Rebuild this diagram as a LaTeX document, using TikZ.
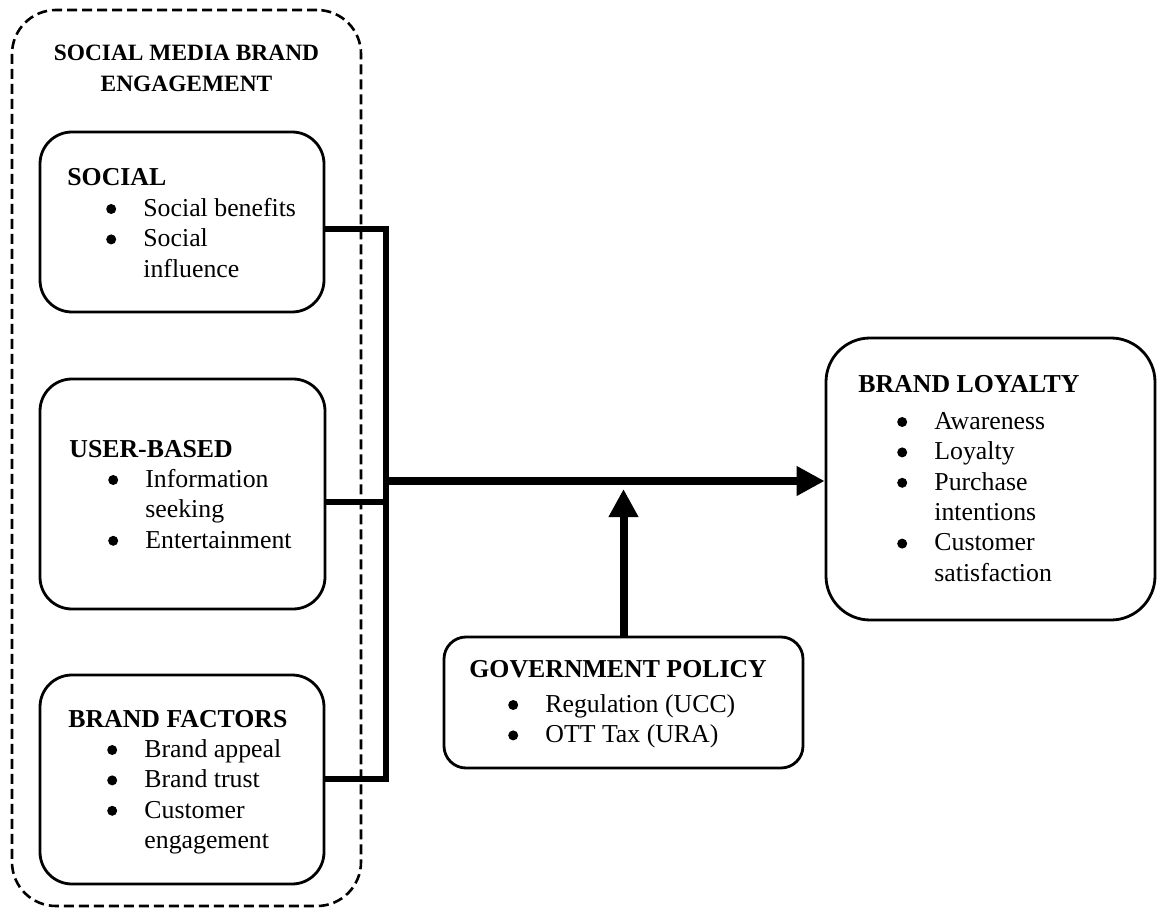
\documentclass[tikz,border=0pt]{standalone}
\usepackage{fontspec}
\setmainfont{Liberation Serif}
\usetikzlibrary{arrows.meta}
\newcommand\bul{\makebox[38pt][l]{\hspace{19.4pt}\tikz[baseline=0pt]\fill (0,3.7pt) circle[radius=2.5pt];}}
\newcommand\ind{\makebox[38pt]{}}
\newcommand\hd[1]{\multicolumn{2}{@{}l@{}}{\textbf{#1}}}
\tikzset{
  frame/.style={draw, line width=1.4pt, inner sep=0pt, fill=white},
  dashframe/.style={draw, line width=1.3pt, inner sep=0pt, dash pattern=on 5pt off 2.5pt, rounded corners=22pt},
  txt/.style={anchor=base west, inner sep=0pt},
  conn/.style={line width=2.6pt, line join=miter},
  bigarrow/.style={line width=4pt, -{Triangle[length=14pt,width=14pt]}},
}
\begin{document}
\begin{tikzpicture}[x=0.5pt, y=-0.5pt, font=\fontsize{12.9}{15.2}\selectfont]
\useasboundingbox (0,0) rectangle (1157,909);
% outer dashed group
\node[dashframe, minimum width=174.5pt, minimum height=448pt] (outer) at (186.5,458) {};
\node[anchor=base, inner sep=0pt, font=\fontsize{11.7}{15.5}\selectfont] (title) at (186.5,61) {\begin{tabular}[t]{@{}c@{}}\textbf{SOCIAL MEDIA BRAND}\\\textbf{ENGAGEMENT}\end{tabular}};
% boxes
\node[frame, rounded corners=16pt, minimum width=142pt, minimum height=90pt] (social) at (182,222) {};
\node[frame, rounded corners=16pt, minimum width=142.5pt, minimum height=115pt] (user) at (182.5,494) {};
\node[frame, rounded corners=16pt, minimum width=142pt, minimum height=104.5pt] (brand) at (182,779.5) {};
\node[frame, rounded corners=22pt, minimum width=164.5pt, minimum height=141pt] (loyalty) at (990.5,479) {};
\node[frame, rounded corners=11pt, minimum width=179.5pt, minimum height=65.5pt] (gov) at (623.5,702.5) {};
% texts
\node[txt] (socialtxt) at (67,186) {\begin{tabular}[t]{@{}l@{}l@{}}\hd{SOCIAL}\\ \bul & Social benefits\\ \bul & Social\\ \ind & influence\end{tabular}};
\node[txt] (usertxt) at (69,457) {\begin{tabular}[t]{@{}l@{}l@{}}\hd{USER-BASED}\\ \bul & Information\\ \ind & seeking\\ \bul & Entertainment\end{tabular}};
\node[txt] (brandtxt) at (68,727) {\begin{tabular}[t]{@{}l@{}l@{}}\hd{BRAND FACTORS}\\ \bul & Brand appeal\\ \bul & Brand trust\\ \bul & Customer\\ \ind & engagement\end{tabular}};
\node[txt] (loyaltytxt) at (858,393) {\begin{tabular}[t]{@{}l@{}l@{}}\hd{BRAND LOYALTY}\\[3pt] \bul & Awareness\\ \bul & Loyalty\\ \bul & Purchase\\ \ind & intentions\\ \bul & Customer\\ \ind & satisfaction\end{tabular}};
\node[txt] (govtxt) at (469,677) {\begin{tabular}[t]{@{}l@{}l@{}}\hd{GOVERNMENT POLICY}\\[2.5pt] \bul & Regulation (UCC)\\ \bul & OTT Tax (URA)\end{tabular}};
% connectors
\coordinate (bt) at (386,229);
\coordinate (bm) at (386,502);
\coordinate (bb) at (386,779);
\coordinate (hub) at (384,481);
\coordinate (gtip) at (623.5,489);
\draw[conn] (social.east |- bt) -- (bt) -- (bb) -- (brand.east |- bb);
\draw[conn] (user.east |- bm) -- (bm);
\draw[bigarrow] (hub) -- (hub -| loyalty.west);
\draw[bigarrow] (gov.north) -- (gtip);
\end{tikzpicture}
\end{document}
